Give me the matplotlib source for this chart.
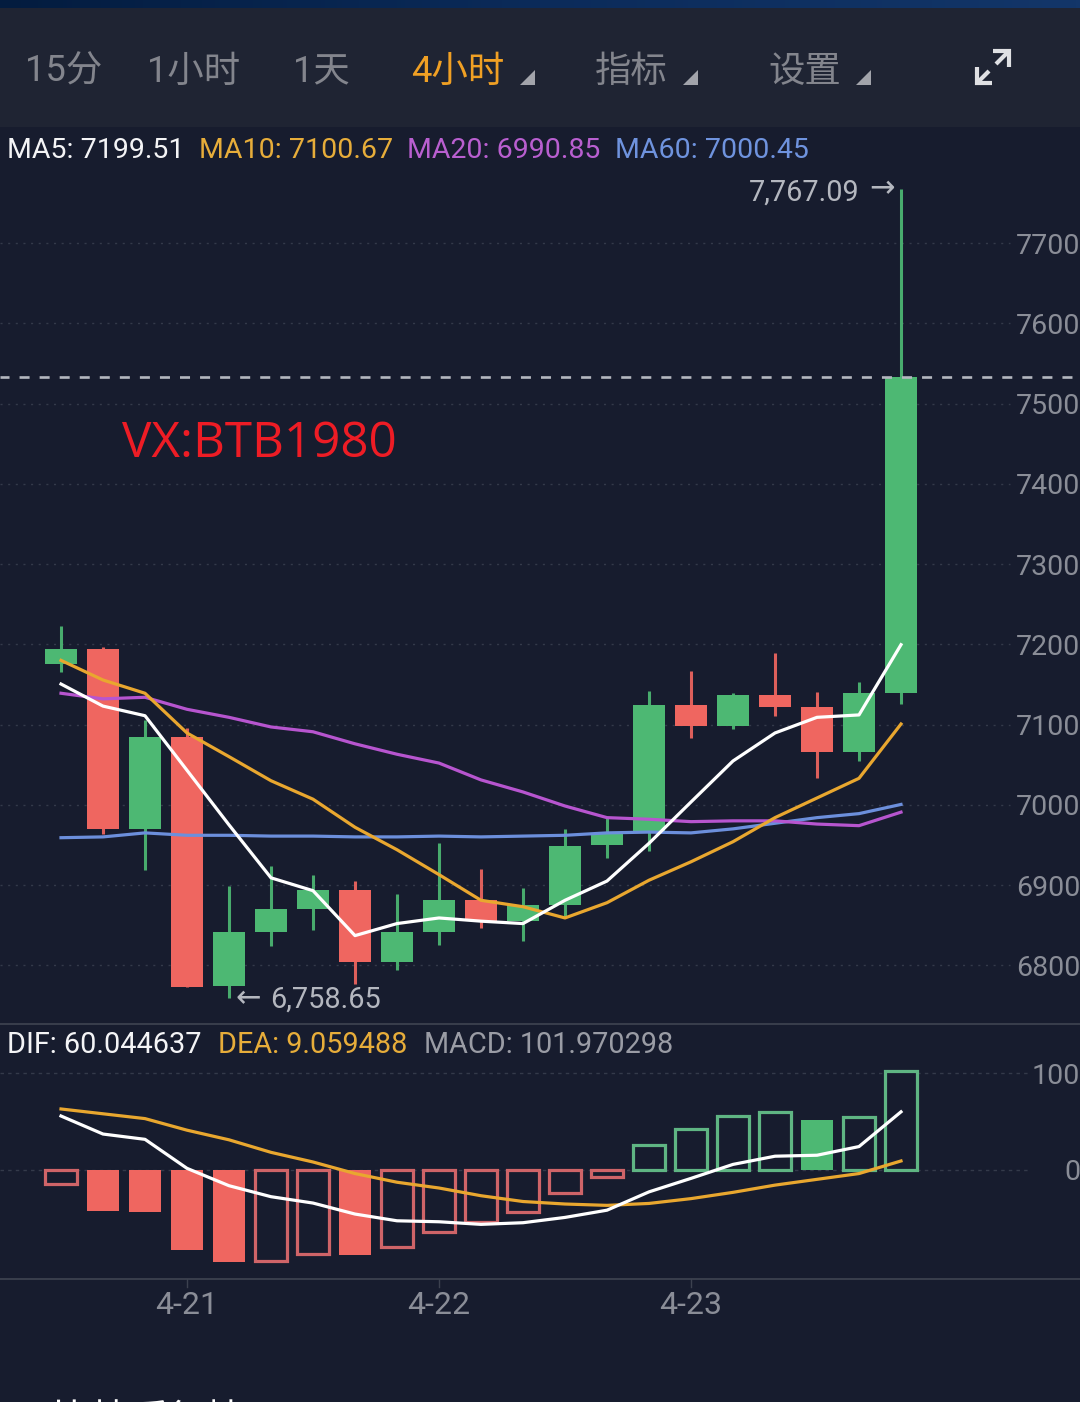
import matplotlib
matplotlib.use("Agg")
import matplotlib.pyplot as plt
from matplotlib.patches import Rectangle, Polygon
from matplotlib.colors import LinearSegmentedColormap
import numpy as np

W, H = 1080, 1402
BG = "#171c2e"; HEAD = "#1f2433"; GREEN = "#4db873"; RED = "#ef6660"
GRID = "#343a4a"; AX = "#3c414f"; GREY = "#8a8d97"
plt.rcParams['font.family'] = ['Roboto', 'Noto Sans CJK SC', 'DejaVu Sans']

# ---------- data ----------
opens  = [7176,7194,6970,7084.5,6774,6841,6870,6894,6804,6841,6881,6855,6875,6950,6966,7124,7098,7137,7122,7066,7139]
closes = [7194,6970,7084.5,6773,6841,6870,6894,6804,6841,6881,6855,6875,6949,6965,7124,7098,7137,7122,7066,7139,7533]
highs  = [7223,7197,7106,7096,6899,6924,6912,6905,6889,6952,6920,6896,6970,6985,7142,7167,7139,7189,7141,7153,7767.09]
lows   = [7165,6964,6919,6773,6758.65,6824,6844,6777,6794,6825,6846,6830,6859,6934,6942,7083,7094,7111,7033,7055,7126]
ma5  = [7150.5,7123,7111,7043,6975,6909,6893,6837,6852,6859,6855,6852,6881,6905,6952,7003.5,7054.6,7089.5,7109,7112,7199.51]
ma10 = [7180,7155.5,7139,7089.5,7060,7030,7007,6972,6944,6913,6881,6873,6859,6878,6906,6929,6954,6984,7008.5,7033,7100.67]
ma20 = [7139,7132,7134,7119,7109,7097,7091,7076,7063,7052,7031,7016,6998.5,6984,6982,6979,6980,6980,6976,6974,6990.85]
ma60 = [6959,6960,6965,6962,6962,6961,6961,6960,6960,6961,6960,6961,6962,6965,6966,6965,6970,6977,6984,6989,7000.45]
macd = [-15,-43,-44,-83,-95.5,-95,-87,-89,-80.5,-65,-54,-43.5,-24,-8,25.5,42,55.7,60,51.5,54.6,101.97]
macd_filled = [0,1,1,1,1,0,0,1,0,0,0,0,0,0,0,0,0,0,1,0,0]
dif = [55.7,37,31.5,1.4,-16.6,-28,-34.6,-46,-53,-54,-56.7,-55,-49.5,-42,-23,-9,5.5,14,15,24,60.04]
dea = [63,58,53,41,31,18,8,-4,-13,-19,-27,-33,-35.6,-37,-35,-30,-23.5,-16,-10,-4,9.06]
price_ticks = [6800,6900,7000,7100,7200,7300,7400,7500,7600,7700]
macd_ticks = [0,100]
date_idx = [3,9,15]
date_labels = ["4-21","4-22","4-23"]
tabs = ["15分","1小时","1天","4小时","指标","设置"]
last_price = 7533

fig = plt.figure(figsize=(W/100, H/100), dpi=100, facecolor=BG)

def axpx(x0, y0, x1, y1, **kw):
    return fig.add_axes([x0/W, 1-y1/H, (x1-x0)/W, (y1-y0)/H], **kw)

ov = axpx(0, 0, W, H, zorder=5); ov.set_xlim(0, W); ov.set_ylim(H, 0); ov.axis('off'); ov.patch.set_alpha(0)
bg = axpx(0, 0, W, H, zorder=0); bg.set_xlim(0, W); bg.set_ylim(H, 0); bg.axis('off')
bg.add_patch(Rectangle((0, 8), W, 119, color=HEAD, lw=0))
grad = np.linspace(0, 1, 256)[None, :]
cm = LinearSegmentedColormap.from_list("b", ["#031c3f", "#0b2b5a", "#133669"])
bg.imshow(grad, extent=(0, W, 8, 0), cmap=cm, aspect='auto', zorder=1)
bg.set_xlim(0, W); bg.set_ylim(H, 0)

# price axis
PX = 0.8025
p2y = lambda y: 7200 - (y - 644.3) / PX
x_lim = (-61/42, (W-61)/42)
grid_end = (1010-61)/42
ax = axpx(0, 127, W, 1023, zorder=2)
ax.patch.set_alpha(0)
ax.set_xlim(*x_lim); ax.set_ylim(p2y(1023), p2y(127))
ax.axis('off')
for t in price_ticks:
    ax.plot([x_lim[0], grid_end], [t, t], color=GRID, lw=1, ls=(0, (1.5, 4)), zorder=1)
    ax.annotate(str(t), (x_lim[1], t), xytext=(0, -2.2), textcoords='offset points',
                ha='right', va='center', color=GREY, fontsize=20.5, zorder=6)
n = len(opens)
for i in range(n):
    c = GREEN if closes[i] > opens[i] else RED
    ax.plot([i, i], [lows[i], highs[i]], color=c, lw=2.2, solid_capstyle='butt', zorder=2, alpha=0.92)
    ax.add_patch(Rectangle((i-0.385, min(opens[i], closes[i])), 0.77, abs(closes[i]-opens[i]), color=c, lw=0, zorder=3))
xs = np.arange(n)
for s, c in [(ma60, "#6c8fdc"), (ma20, "#b755cf"), (ma10, "#e9a72f"), (ma5, "#ffffff")]:
    ax.plot(xs, s, color=c, lw=2.3, zorder=4, solid_joinstyle='round')
ax.axhline(last_price, color="#b4b7bf", lw=1.9, ls=(0.38, (3.8, 3.8)), zorder=5)
LBL = "#b4b7bf"
ax.annotate("7,767.09", (19.0, max(highs)), xytext=(0, -2.2), textcoords='offset points',
            ha='right', va='center', color=LBL, fontsize=20.8, zorder=6)
ax.text(19.55, max(highs)+1, "→", ha='center', va='center', color=LBL, fontsize=22, family='DejaVu Sans', zorder=6)
ax.text(4.16, min(lows), "←", ha='left', va='center', color=LBL, fontsize=22, family='DejaVu Sans', zorder=6)
ax.annotate("6,758.65", (4.98, min(lows)), xytext=(0, -1), textcoords='offset points',
            ha='left', va='center', color=LBL, fontsize=20.8, zorder=6)
ax.text(1.45, p2y(444), "VX:BTB1980", ha='left', va='center', color="#ee1c25", fontsize=35.6, family='Open Sans', zorder=6)

# MACD axis
MP = 0.964
m2y = lambda y: (1169.7 - y) / MP
mx = axpx(0, 1023, W, 1279, zorder=2)
mx.patch.set_alpha(0)
mx.set_xlim(*x_lim); mx.set_ylim(m2y(1279), m2y(1023)); mx.axis('off')
for t in macd_ticks:
    mx.plot([x_lim[0], (1030-61)/42], [t, t], color=GRID, lw=1, ls=(0, (2.5, 3)), zorder=1)
    mx.annotate(str(t), (x_lim[1], t), xytext=(0, -2), textcoords='offset points',
                ha='right', va='center', color=GREY, fontsize=20.5, zorder=6)
for i, v in enumerate(macd):
    base = GREEN if v > 0 else RED
    if macd_filled[i]:
        mx.add_patch(Rectangle((i-0.385, 0), 0.77, v, facecolor=base, lw=0, zorder=3))
    else:
        edge = "#5fb583" if v > 0 else "#cf6468"
        mx.add_patch(Rectangle((i-0.37, 0), 0.74, v, facecolor=BG, edgecolor=edge, lw=2.3, zorder=3))
mx.plot(xs, dea, color="#e9a72f", lw=2.3, zorder=4)
mx.plot(xs, dif, color="#ffffff", lw=2.3, zorder=5)

# frame lines and date ticks
for yy in (1023.5, 1279):
    ov.plot([0, W], [yy, yy], color=AX, lw=1.3)
for i, lab in zip(date_idx, date_labels):
    xp = 61 + 42*i
    ov.plot([xp, xp], [1279, 1287], color=AX, lw=1)
    ov.text(xp, 1306, lab, ha='center', va='center', color=GREY, fontsize=23)

# tabs
tab_x = [25, 147, 293, 411, 595, 768]
for j, (t, xp) in enumerate(zip(tabs, tab_x)):
    ov.text(xp, 72, t, ha='left', va='center', fontsize=26.2, color="#f0a024" if j == 3 else "#83858d",
            family=['Roboto', 'Noto Sans CJK SC'])
for xr in (535, 698, 871):
    ov.add_patch(Polygon([[xr, 70], [xr, 85], [xr-15, 85]], color="#a2a4ab", lw=0))
# expand icon
ic = "#dfe0e3"
ov.plot([993, 1009, 1009], [51, 51, 67], color=ic, lw=3, solid_joinstyle='miter', solid_capstyle='butt')
ov.plot([1008, 996], [52, 64], color=ic, lw=3, solid_capstyle='butt')
ov.plot([977, 977, 992], [67, 83, 83], color=ic, lw=3, solid_joinstyle='miter', solid_capstyle='butt')
ov.plot([978, 989], [82, 71], color=ic, lw=3, solid_capstyle='butt')

# legends
def row(items, y, fs):
    for txt, xp, c in items:
        ov.text(xp, y, txt, ha='left', va='center', color=c, fontsize=fs)
row([("MA5: 7199.51", 7, "#f4f4f6"), ("MA10: 7100.67", 199, "#e7ad3a"),
     ("MA20: 6990.85", 407, "#b95fd0"), ("MA60: 7000.45", 615, "#6f93de")], 150, 20.5)
row([("DIF: 60.044637", 7, "#f4f4f6"), ("DEA: 9.059488", 218, "#e7ad3a"),
     ("MACD: 101.970298", 424, "#9a9ca5")], 1045, 20.8)

# heading cut off by the bottom edge
ov.text(52, 1421, "比特币行情", ha='left', va='center', color="#ffffff", fontsize=28,
        family=['Noto Sans CJK SC'], clip_on=True)

fig.savefig("out.png", dpi=100, facecolor=BG)
